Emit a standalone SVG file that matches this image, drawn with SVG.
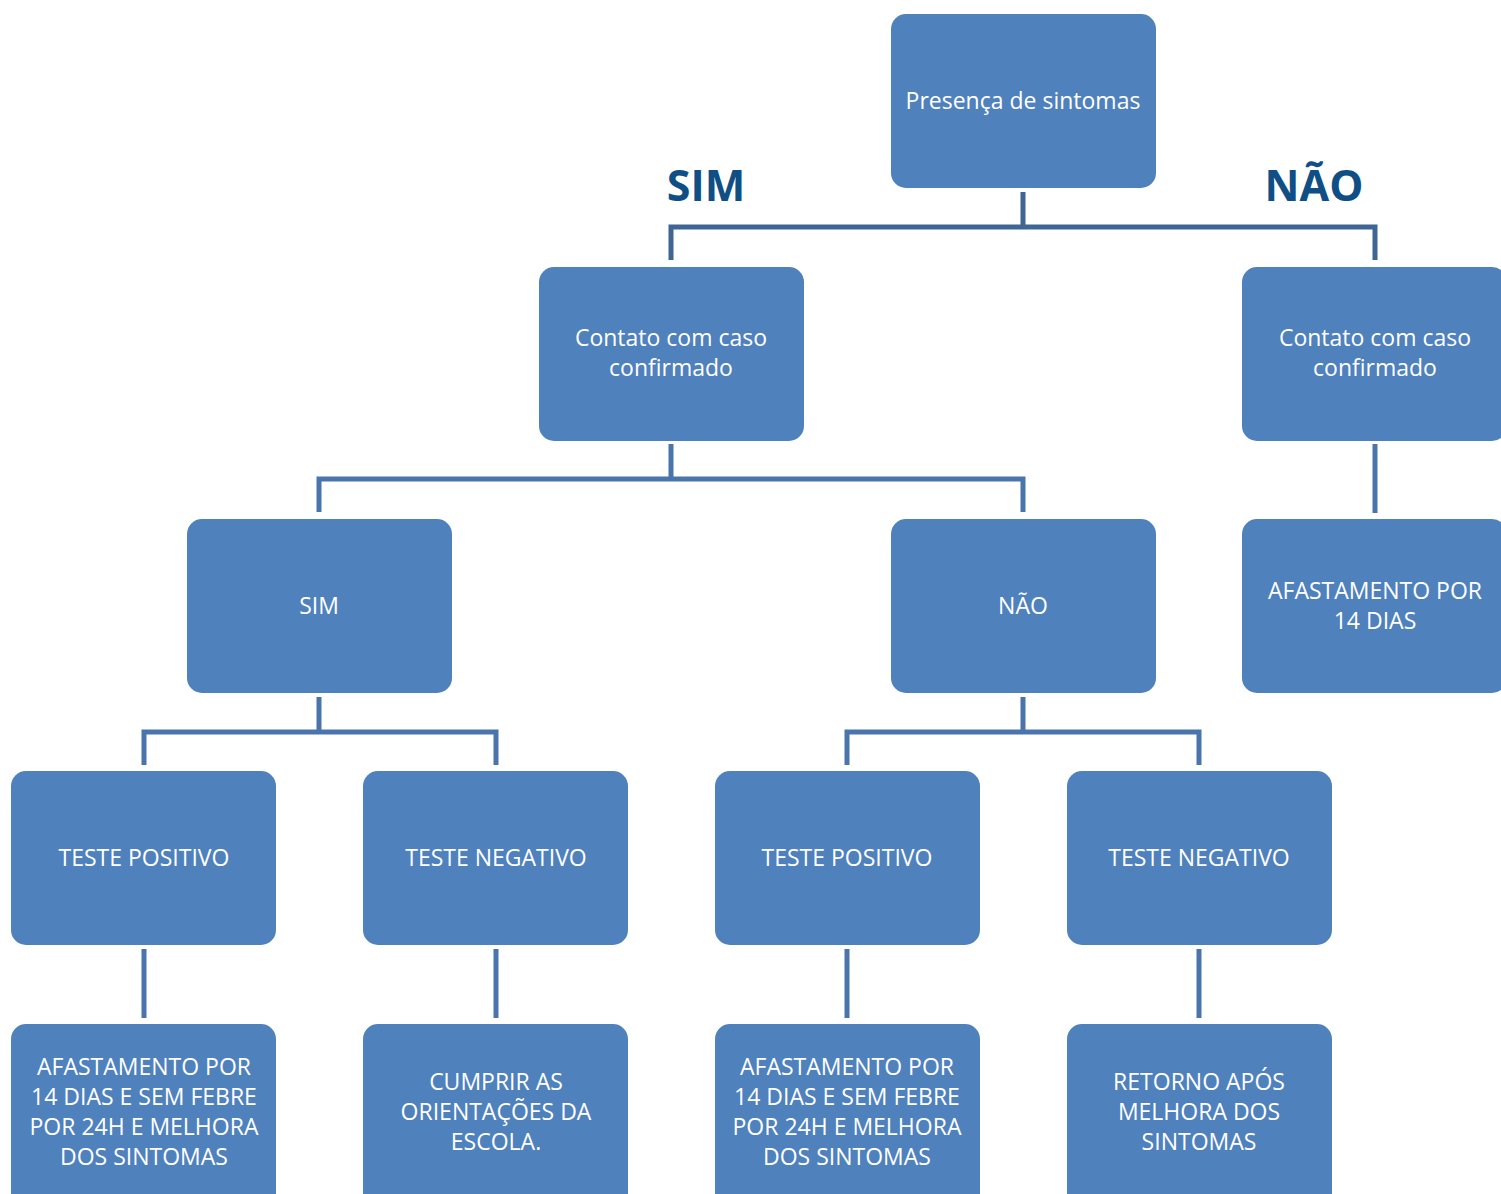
<svg xmlns="http://www.w3.org/2000/svg" width="1501" height="1194" viewBox="0 0 1501 1194">
<style>
.box{fill:#4F81BD;}
.t{font-family:"Open Sans","Noto Sans",sans-serif;font-size:23px;fill:#FFFFFF;text-anchor:middle;}
.lbl{font-family:"Open Sans","Noto Sans",sans-serif;font-size:43px;font-weight:bold;fill:#0F4F85;text-anchor:middle;}
.c{fill:none;stroke:#4A74AC;stroke-width:5;}
.c0{fill:none;stroke:#3E6594;stroke-width:5;}
</style>
<rect width="1501" height="1194" fill="#FFFFFF"/>
<g id="connectors">
<path class="c0" d="M1023,192 V227 M671,260 V227 H1375 V260"/>
<path class="c" d="M671,444 V479 M319,512 V479 H1023 V512"/>
<path class="c" d="M1375,444 V513"/>
<path class="c" d="M319,697 V732 M144,765 V732 H496 V765"/>
<path class="c" d="M1023,697 V732 M847,765 V732 H1199 V765"/>
<path class="c" d="M144,949 V1018 M496,949 V1018 M847,949 V1018 M1199,949 V1018"/>
</g>
<g id="labels">
<text class="lbl" x="706" y="201">SIM</text>
<text class="lbl" x="1314" y="201">NÃO</text>
</g>
<g id="n-presenca"><rect class="box" x="891" y="14" width="265" height="174" rx="15"/><text class="t" x="1023" y="109">Presença de sintomas</text></g>
<g id="n-contato-sim"><rect class="box" x="539" y="267" width="265" height="174" rx="15"/><text class="t" x="671" y="346">Contato com caso</text><text class="t" x="671" y="376">confirmado</text></g>
<g id="n-contato-nao"><rect class="box" x="1242" y="267" width="265" height="174" rx="15"/><text class="t" x="1375" y="346">Contato com caso</text><text class="t" x="1375" y="376">confirmado</text></g>
<g id="n-sim"><rect class="box" x="187" y="519" width="265" height="174" rx="15"/><text class="t" x="319" y="614">SIM</text></g>
<g id="n-nao"><rect class="box" x="891" y="519" width="265" height="174" rx="15"/><text class="t" x="1023" y="614">NÃO</text></g>
<g id="n-afast14"><rect class="box" x="1242" y="519" width="265" height="174" rx="15"/><text class="t" x="1375" y="599">AFASTAMENTO POR</text><text class="t" x="1375" y="629">14 DIAS</text></g>
<g id="n-pos1"><rect class="box" x="11" y="771" width="265" height="174" rx="15"/><text class="t" x="144" y="866">TESTE POSITIVO</text></g>
<g id="n-neg1"><rect class="box" x="363" y="771" width="265" height="174" rx="15"/><text class="t" x="496" y="866">TESTE NEGATIVO</text></g>
<g id="n-pos2"><rect class="box" x="715" y="771" width="265" height="174" rx="15"/><text class="t" x="847" y="866">TESTE POSITIVO</text></g>
<g id="n-neg2"><rect class="box" x="1067" y="771" width="265" height="174" rx="15"/><text class="t" x="1199" y="866">TESTE NEGATIVO</text></g>
<g id="n-res1"><rect class="box" x="11" y="1024" width="265" height="190" rx="15"/><text class="t" x="144" y="1075">AFASTAMENTO POR</text><text class="t" x="144" y="1105">14 DIAS E SEM FEBRE</text><text class="t" x="144" y="1135">POR 24H E MELHORA</text><text class="t" x="144" y="1165">DOS SINTOMAS</text></g>
<g id="n-res2"><rect class="box" x="363" y="1024" width="265" height="190" rx="15"/><text class="t" x="496" y="1090">CUMPRIR AS</text><text class="t" x="496" y="1120">ORIENTAÇÕES DA</text><text class="t" x="496" y="1150">ESCOLA.</text></g>
<g id="n-res3"><rect class="box" x="715" y="1024" width="265" height="190" rx="15"/><text class="t" x="847" y="1075">AFASTAMENTO POR</text><text class="t" x="847" y="1105">14 DIAS E SEM FEBRE</text><text class="t" x="847" y="1135">POR 24H E MELHORA</text><text class="t" x="847" y="1165">DOS SINTOMAS</text></g>
<g id="n-res4"><rect class="box" x="1067" y="1024" width="265" height="190" rx="15"/><text class="t" x="1199" y="1090">RETORNO APÓS</text><text class="t" x="1199" y="1120">MELHORA DOS</text><text class="t" x="1199" y="1150">SINTOMAS</text></g>
</svg>
